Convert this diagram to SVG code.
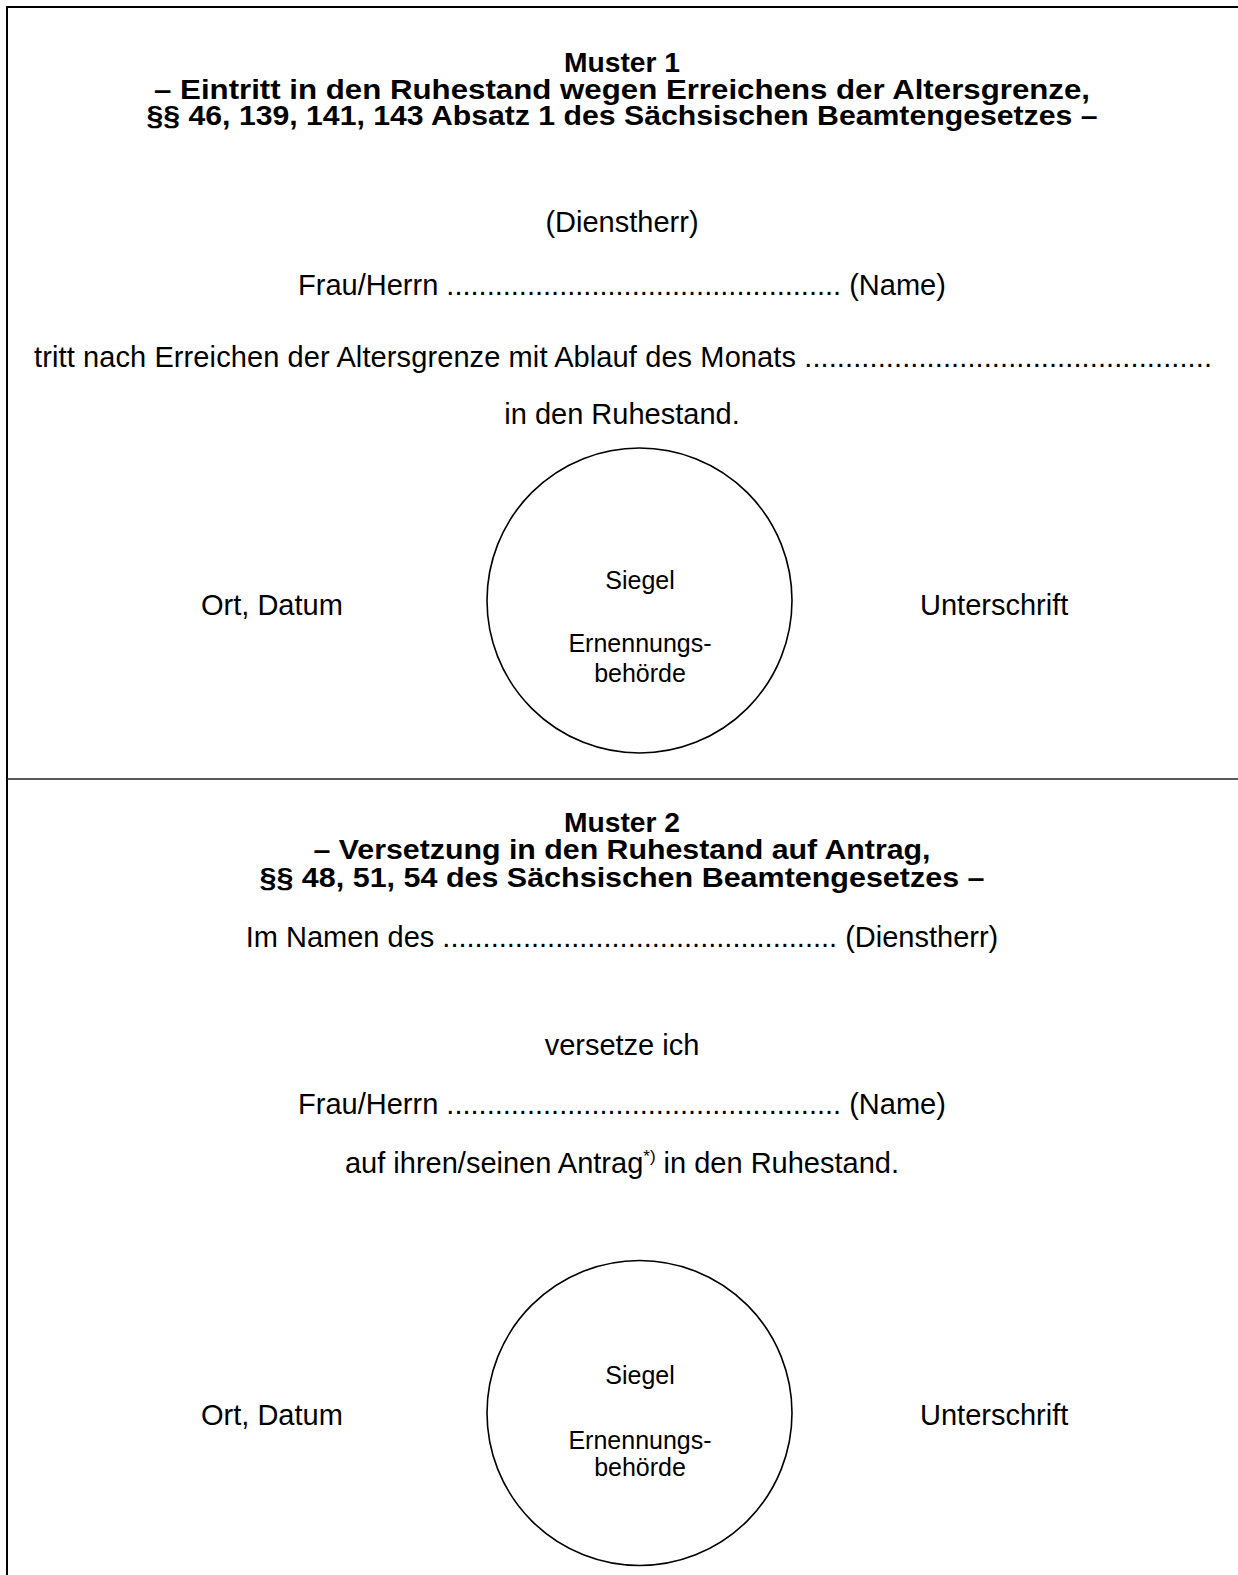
<svg xmlns="http://www.w3.org/2000/svg" width="1238" height="1575" viewBox="0 0 1238 1575">
<style>
text{font-family:"Liberation Sans",Arial,sans-serif;fill:#000}
.t{font-size:29px;text-anchor:middle}
.l{font-size:29px}
.h{font-size:28px;font-weight:bold;text-anchor:middle}
.s{font-size:25px;text-anchor:middle}
.frame{stroke:#000;stroke-width:2;fill:none}
.sep{stroke:#222;stroke-width:1.3;fill:none}
.seal{stroke:#000;stroke-width:1.6;fill:none}
</style>
<rect width="1238" height="1575" fill="#fff"/>
<g id="frame">
<path class="frame" d="M7,1575 V7 H1238"/>
<path class="sep" d="M7,779 H1238"/>
</g>
<g id="muster1">
<text class="h" x="622" y="72" textLength="116" lengthAdjust="spacingAndGlyphs">Muster 1</text>
<text class="h" x="622" y="98.5" textLength="936" lengthAdjust="spacingAndGlyphs">– Eintritt in den Ruhestand wegen Erreichens der Altersgrenze,</text>
<text class="h" x="622" y="125" textLength="951" lengthAdjust="spacingAndGlyphs">§§ 46, 139, 141, 143 Absatz 1 des Sächsischen Beamtengesetzes –</text>
<text class="t" x="622" y="232">(Dienstherr)</text>
<text class="t" x="622" y="295">Frau/Herrn ................................................. (Name)</text>
<text class="l" x="34" y="367" textLength="1178" lengthAdjust="spacing">tritt nach Erreichen der Altersgrenze mit Ablauf des Monats ..................................................</text>
<text class="t" x="622" y="424">in den Ruhestand.</text>
<text class="l" x="201" y="615">Ort, Datum</text>
<text class="l" x="920" y="615">Unterschrift</text>
</g>
<g id="siegel1">
<circle class="seal" cx="639.5" cy="600.5" r="152.5"/>
<text class="s" x="640" y="589">Siegel</text>
<text class="s" x="640" y="652">Ernennungs-</text>
<text class="s" x="640" y="682">behörde</text>
</g>
<g id="muster2">
<text class="h" x="622" y="832" textLength="116" lengthAdjust="spacingAndGlyphs">Muster 2</text>
<text class="h" x="622" y="859" textLength="617" lengthAdjust="spacingAndGlyphs">– Versetzung in den Ruhestand auf Antrag,</text>
<text class="h" x="622" y="887" textLength="725" lengthAdjust="spacingAndGlyphs">§§ 48, 51, 54 des Sächsischen Beamtengesetzes –</text>
<text class="t" x="622" y="947">Im Namen des ................................................. (Dienstherr)</text>
<text class="t" x="622" y="1055">versetze ich</text>
<text class="t" x="622" y="1114">Frau/Herrn ................................................. (Name)</text>
<text class="t" x="622" y="1173">auf ihren/seinen Antrag<tspan font-size="17" dy="-11">*)</tspan><tspan dy="11"> in den Ruhestand.</tspan></text>
<text class="l" x="201" y="1425">Ort, Datum</text>
<text class="l" x="920" y="1425">Unterschrift</text>
</g>
<g id="siegel2">
<circle class="seal" cx="639.5" cy="1413" r="152.5"/>
<text class="s" x="640" y="1384">Siegel</text>
<text class="s" x="640" y="1449">Ernennungs-</text>
<text class="s" x="640" y="1476">behörde</text>
</g>
</svg>
